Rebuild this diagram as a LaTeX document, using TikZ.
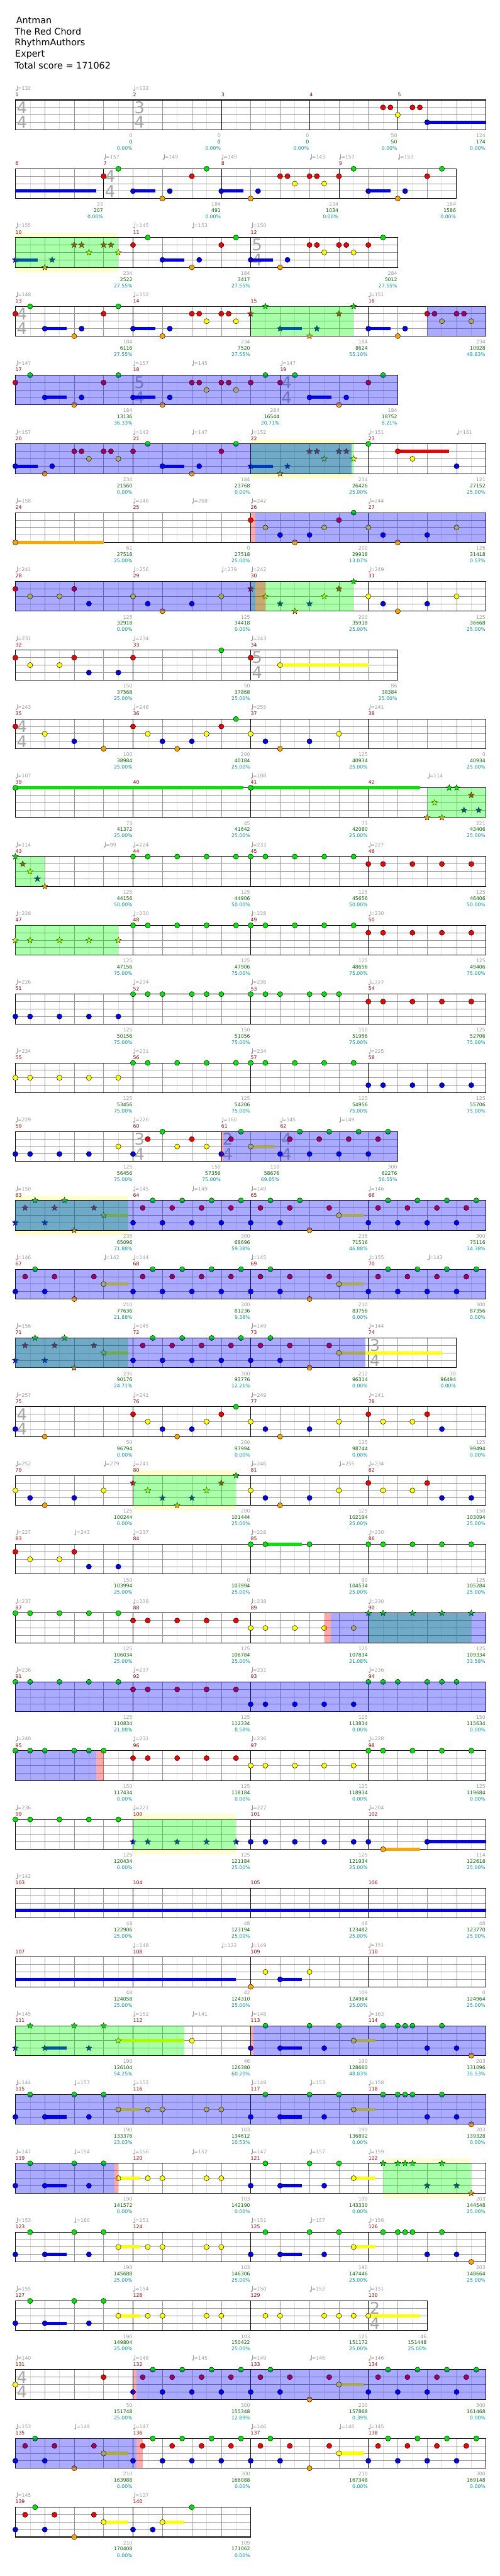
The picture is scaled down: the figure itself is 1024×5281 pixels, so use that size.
\documentclass[tikz,border=0pt]{standalone}
\usepackage{fontspec}
\setmainfont{DejaVu Sans}
\usepackage{xcolor}
\usetikzlibrary{shapes.geometric}

\definecolor{gnote}{RGB}{0,230,0}
\definecolor{rnote}{RGB}{245,0,0}
\definecolor{ynote}{RGB}{255,255,0}
\definecolor{bnote}{RGB}{0,0,245}
\definecolor{onote}{RGB}{255,165,0}
\colorlet{lane0}{gnote}
\colorlet{lane1}{rnote}
\colorlet{lane2}{ynote}
\colorlet{lane3}{bnote}
\colorlet{lane4}{onote}
\definecolor{bandcol}{RGB}{255,255,205}
\definecolor{greycol}{RGB}{155,155,155}
\definecolor{mnumcol}{RGB}{150,0,0}
\definecolor{cumcol}{RGB}{0,105,0}
\definecolor{pctcol}{RGB}{0,150,150}
\definecolor{gridcol}{RGB}{150,150,150}
\definecolor{halfcol}{RGB}{222,222,222}
\definecolor{tsigcol}{RGB}{165,165,165}

\tikzstyle{notedot}    = [draw=black, line width=0.6pt]
\tikzstyle{starnote}   = [draw=black, line width=0.5pt, star, star points=5, star point ratio=2.3, minimum size=13pt, inner sep=0pt]
\tikzstyle{sustain}    = [line width=6.5pt]
\tikzstyle{halfline}   = [draw=halfcol, line width=0.7pt]
\tikzstyle{beatline}   = [draw=gridcol, line width=0.8pt]
\tikzstyle{laneline}   = [draw=gridcol, line width=1.2pt]
\tikzstyle{barline}    = [draw=black, line width=0.8pt]
\tikzstyle{staffframe} = [draw=black, line width=1.3pt]
\tikzstyle{row}        = [shift={(31.5pt,-\rowy pt)}, x=60.3pt, y=-15.25pt]
\tikzstyle{headtext}   = [inner sep=0pt, anchor=west, font=\fontsize{18.5}{20}\selectfont]
\tikzstyle{tempotext}  = [text=greycol, inner sep=0pt, anchor=west, font=\fontsize{10}{10}\selectfont]
\tikzstyle{mnumtext}   = [text=mnumcol, inner sep=0pt, anchor=west, font=\fontsize{10}{10}\selectfont]
\tikzstyle{scoretext}  = [inner sep=0pt, anchor=east, xshift=-1pt, font=\fontsize{10}{10}\selectfont]
\tikzstyle{tsigtext}   = [text=tsigcol, inner sep=0pt, font=\fontsize{33}{33}\selectfont]

\newcounter{nid}
\newcommand\setrow[1]{\pgfmathsetmacro\rowy{205+141*(#1-1)}}
\newcommand\staff[2]{%
  \fill[white] (0,0) rectangle (#1,4);
  \pgfmathsetmacro\lasthalf{#1-0.5}
  \foreach \p in {0.5,1.5,...,\lasthalf} {\draw[halfline] (\p,0) -- (\p,4);}
  \pgfmathtruncatemacro\lastbeat{#1-1}
  \foreach \p in {1,...,\lastbeat} {\draw[beatline] (\p,0) -- (\p,4);}
  \foreach \q in {1,2,3} {\draw[laneline] (0,\q) -- (#1,\q);}
  \foreach \p in {#2} {\draw[barline] (\p,0) -- (\p,4);}
  \draw[staffframe] (0,0) rectangle (#1,4);}
\newcommand\tsig[3]{\stepcounter{nid}%
  \node[tsigtext] (tn\thenid) at (#1+0.22,1) {#2};
  \node[tsigtext] (td\thenid) at (#1+0.22,3) {#3};}
\newcommand\tempo[2]{\stepcounter{nid}%
  \fill[greycol] (#1,-1.31) ++(2pt,0pt) circle (1.7pt);
  \draw[greycol, line width=0.7pt] (#1,-1.31) ++(3.5pt,0pt) -- ++(0pt,10pt);
  \node[tempotext, xshift=4.5pt] (tq\thenid) at (#1,-1.57) {=#2};}
\newcommand\tempos[1]{\foreach \tp/\tv in {#1} {\tempo{\tp}{\tv}}}
\newcommand\measure[6]{%
  \node[mnumtext] (m#3) at (#1,-0.72) {#3};
  \node[scoretext, text=greycol] (ms#3) at (#2,4.79) {#4};
  \node[scoretext, text=cumcol] (mc#3) at (#2,5.62) {#5};
  \node[scoretext, text=pctcol] (mp#3) at (#2,6.47) {#6};}
\newcommand\sus[3]{\draw[sustain, draw=lane#1] (#2,#1) -- (#3,#1);}
\newcommand\nt[2]{\foreach \p in {#2} {\filldraw[notedot, fill=lane#1] (\p,#1) circle (5.3pt);}}
\newcommand\snt[2]{\foreach \p in {#2} {\stepcounter{nid}\node[starnote, fill=lane#1] (sn\thenid) at (\p,#1) {};}}
\newcommand\spband[2]{\fill[bandcol] (#1,-0.66) rectangle (#2,4.66);}
\newcommand\spzone[2]{\fill[green, opacity=0.333] (#1,0) rectangle (#2,4);}
\newcommand\odzone[2]{\fill[blue, opacity=0.333] (#1,0) rectangle (#2,4);}
\newcommand\redzone[2]{\fill[red, opacity=0.333] (#1,0) rectangle (#2,4);}

\begin{document}
\begin{tikzpicture}[x=1pt, y=-1pt]
\useasboundingbox (0,0) rectangle (1024,5281);

% hlavička
\node[headtext] (song) at (33,42) {Antman};
\node[headtext] (artist) at (30,65) {The Red Chord};
\node[headtext] (charter) at (30,88) {RhythmAuthors};
\node[headtext] (level) at (31,112) {Expert};
\node[headtext] (total) at (30,134) {Total score = 171062};

% řádek 1, takty 1-5
\setrow{1}
\begin{scope}[row]
\staff{16}{4,7,10,13}
\tsig{0}{4}{4} \tsig{4}{3}{4}
\tempos{0/132,4/132}
\measure{0}{4}{1}{0}{0}{0.00\%}
\measure{4}{7}{2}{0}{0}{0.00\%}
\measure{7}{10}{3}{0}{0}{0.00\%}
\measure{10}{13}{4}{50}{50}{0.00\%}
\measure{13}{16}{5}{124}{174}{0.00\%}
\sus{3}{14}{16}
\nt{1}{12.5,12.75,13.5,13.75}
\nt{2}{13}
\nt{3}{14}
\end{scope}

% řádek 2, takty 6-9
\setrow{2}
\begin{scope}[row]
\staff{15}{3,7,11}
\tsig{3}{4}{4}
\tempos{3/157,5/149,7/149,10/143,11/157,13/153}
\measure{0}{3}{6}{33}{207}{0.00\%}
\measure{3}{7}{7}{184}{491}{0.00\%}
\measure{7}{11}{8}{234}{1034}{0.00\%}
\measure{11}{15}{9}{184}{1586}{0.00\%}
\sus{3}{0}{2.75} \sus{3}{4}{4.75} \sus{3}{7}{7.75} \sus{3}{12}{12.75}
\nt{0}{3.5,6.5,11.5,14.5}
\nt{1}{3,6,9,9.25,10,10.25,11,14}
\nt{2}{9.5,10.5}
\nt{3}{4,5.25,7,8.25,12,13.25}
\nt{4}{5,8,13}
\end{scope}

% řádek 3, takty 10-12
\setrow{3}
\begin{scope}[row]
\spband{0}{3.5}
\staff{13}{4,8}
\tsig{8}{5}{4}
\tempos{0/155,4/145,6/153,8/150}
\measure{0}{4}{10}{234}{2522}{27.55\%}
\measure{4}{8}{11}{184}{3417}{27.55\%}
\measure{8}{13}{12}{284}{5012}{27.55\%}
\sus{3}{0}{0.75} \sus{3}{5}{5.75} \sus{3}{8}{8.75}
\snt{1}{2,2.25,3,3.25}
\snt{2}{2.5,3.5}
\snt{3}{0,1.25}
\snt{4}{1}
\nt{0}{4.5,7.5,12.5}
\nt{1}{4,7,10,10.25,11,11.25,12}
\nt{2}{10.5,11.5}
\nt{3}{5,6.25,8,9.25}
\nt{4}{6,9}
\spzone{0}{3.5}
\end{scope}

% řádek 4, takty 13-16
\setrow{4}
\begin{scope}[row]
\staff{16}{4,8,12}
\tsig{0}{4}{4}
\tempos{0/148,4/152,12/151}
\measure{0}{4}{13}{184}{6116}{27.55\%}
\measure{4}{8}{14}{234}{7520}{27.55\%}
\measure{8}{12}{15}{184}{8624}{55.10\%}
\measure{12}{16}{16}{234}{10928}{48.83\%}
\sus{3}{1}{1.75} \sus{3}{4}{4.75} \sus{3}{9}{9.75} \sus{3}{12}{12.75}
\nt{0}{0.5,3.5}
\nt{1}{0,3,6,6.25,7,7.25,14,14.25,15,15.25}
\nt{2}{6.5,7.5,14.5,15.5}
\nt{3}{1,2.25,4,5.25,12,13.25}
\nt{4}{2,5,13}
\snt{0}{8.5,11.5}
\snt{1}{8,11}
\snt{3}{9,10.25}
\snt{4}{10}
\spzone{8}{11.5}
\odzone{14}{16}
\end{scope}

% řádek 5, takty 17-19
\setrow{5}
\begin{scope}[row]
\staff{13}{4,9}
\tsig{4}{5}{4} \tsig{9}{4}{4}
\tempos{0/147,4/157,6/145,9/147}
\measure{0}{4}{17}{184}{13136}{36.33\%}
\measure{4}{9}{18}{284}{16544}{20.71\%}
\measure{9}{13}{19}{184}{18752}{8.21\%}
\sus{3}{1}{1.75} \sus{3}{4}{4.75} \sus{3}{10}{10.75}
\nt{0}{0.5,3.5,8.5,9.5,12.5}
\nt{1}{0,3,6,6.25,7,7.25,8,9,12}
\nt{2}{6.5,7.5}
\nt{3}{1,2.25,4,5.25,10,11.25}
\nt{4}{2,5,11}
\odzone{0}{13}
\end{scope}

% řádek 6, takty 20-23
\setrow{6}
\begin{scope}[row]
\spband{8}{11.5}
\staff{16}{4,8,12}
\tempos{0/157,4/142,6/147,8/152,12/151,15/161}
\measure{0}{4}{20}{234}{21560}{0.00\%}
\measure{4}{8}{21}{184}{23768}{0.00\%}
\measure{8}{12}{22}{234}{26426}{25.00\%}
\measure{12}{16}{23}{121}{27152}{25.00\%}
\sus{3}{0}{0.75} \sus{3}{5}{5.75} \sus{3}{8}{8.75} \sus{1}{13}{14.75}
\nt{0}{4.5,7.5,12}
\nt{1}{2,2.25,3,3.25,4,7,13}
\nt{2}{2.5,3.5,13.5}
\nt{3}{0,1.25,5,6.25,15}
\nt{4}{1,6}
\snt{1}{10,10.25,11,11.25}
\snt{2}{10.5,11.5}
\snt{3}{8,9.25}
\snt{4}{9}
\spzone{8}{11.5}
\odzone{0}{11.43}
\end{scope}

% řádek 7, takty 24-27
\setrow{7}
\begin{scope}[row]
\staff{16}{4,8,12}
\tempos{0/158,4/246,6/268,8/242,12/244}
\measure{0}{4}{24}{61}{27518}{25.00\%}
\measure{4}{8}{25}{0}{27518}{25.00\%}
\measure{8}{12}{26}{200}{29918}{13.07\%}
\measure{12}{16}{27}{125}{31418}{0.57\%}
\sus{4}{0}{3}
\nt{0}{11.5}
\nt{1}{8,11}
\nt{2}{8.5,10.5,12,15}
\nt{3}{9,10,12.5,14}
\nt{4}{0,9.5,13}
\redzone{8}{8.15}
\odzone{8.15}{16}
\end{scope}

% řádek 8, takty 28-31
\setrow{8}
\begin{scope}[row]
\staff{16}{4,8,12}
\tempos{0/241,4/256,7/279,8/242,12/249}
\measure{0}{4}{28}{125}{32918}{0.00\%}
\measure{4}{8}{29}{125}{34418}{0.00\%}
\measure{8}{12}{30}{200}{35918}{25.00\%}
\measure{12}{16}{31}{125}{36668}{25.00\%}
\nt{1}{0,2}
\nt{2}{0.5,1.5,4,7,12,15}
\nt{3}{2.5,4.5,6,12.5,14}
\nt{4}{5,13}
\snt{0}{11.5}
\snt{1}{8,11}
\snt{2}{8.5,10.5}
\snt{3}{9,10}
\snt{4}{9.5}
\spzone{8}{11.5}
\odzone{0}{8.15}
\redzone{8.15}{8.5}
\end{scope}

% řádek 9, takty 32-34
\setrow{9}
\begin{scope}[row]
\staff{13}{4,8}
\tsig{8}{5}{4}
\tempos{0/231,4/234,8/243}
\measure{0}{4}{32}{150}{37568}{25.00\%}
\measure{4}{8}{33}{50}{37868}{25.00\%}
\measure{8}{13}{34}{86}{38384}{25.00\%}
\sus{2}{9}{12}
\nt{0}{7}
\nt{1}{0,2,4,8}
\nt{2}{0.5,1.5,9}
\nt{3}{2.5,3.5}
\end{scope}

% řádek 10, takty 35-38
\setrow{10}
\begin{scope}[row]
\staff{16}{4,8,12}
\tsig{0}{4}{4}
\tempos{0/243,4/246,8/255,12/241}
\measure{0}{4}{35}{100}{38984}{25.00\%}
\measure{4}{8}{36}{200}{40184}{25.00\%}
\measure{8}{12}{37}{125}{40934}{25.00\%}
\measure{12}{16}{38}{0}{40934}{25.00\%}
\nt{0}{7.5}
\nt{1}{0,4,7}
\nt{2}{1,4.5,6.5,8,11}
\nt{3}{2,5,6,8.5,10}
\nt{4}{3,5.5,9}
\end{scope}

% řádek 11, takty 39-42
\setrow{11}
\begin{scope}[row]
\staff{16}{4,8,12}
\tempos{0/107,8/108,14/114}
\measure{0}{4}{39}{73}{41372}{25.00\%}
\measure{4}{8}{40}{45}{41642}{25.00\%}
\measure{8}{12}{41}{73}{42080}{25.00\%}
\measure{12}{16}{42}{221}{43406}{25.00\%}
\sus{0}{0}{7.75} \sus{0}{8}{13.75}
\nt{0}{0,8}
\snt{0}{14.75,15}
\snt{1}{15.5}
\snt{2}{14.25}
\snt{3}{15.25,15.75}
\snt{4}{14,14.5}
\spzone{14}{16}
\end{scope}

% řádek 12, takty 43-46
\setrow{12}
\begin{scope}[row]
\staff{16}{4,8,12}
\tempos{0/114,3/99,4/224,8/233,12/227}
\measure{0}{4}{43}{125}{44156}{50.00\%}
\measure{4}{8}{44}{125}{44906}{50.00\%}
\measure{8}{12}{45}{125}{45656}{50.00\%}
\measure{12}{16}{46}{125}{46406}{50.00\%}
\nt{0}{4,4.5,5.5,6.5,7.5,8,8.5,9.5,10.5,11.5}
\nt{1}{12,12.5,13.5,14.5,15.5}
\snt{0}{0} \snt{1}{0.25} \snt{2}{0.5} \snt{3}{0.75} \snt{4}{1}
\spzone{0}{1}
\end{scope}

% řádek 13, takty 47-50
\setrow{13}
\begin{scope}[row]
\staff{16}{4,8,12}
\tempos{0/228,4/230,8/228,12/230}
\measure{0}{4}{47}{125}{47156}{75.00\%}
\measure{4}{8}{48}{125}{47906}{75.00\%}
\measure{8}{12}{49}{125}{48656}{75.00\%}
\measure{12}{16}{50}{125}{49406}{75.00\%}
\nt{0}{4,4.5,5.5,6.5,7.5,8,8.5,9.5,10.5,11.5}
\nt{1}{12,12.5,13.5,14.5,15.5}
\snt{2}{0,0.5,1.5,2.5,3.5}
\spzone{0}{3.5}
\end{scope}

% řádek 14, takty 51-54
\setrow{14}
\begin{scope}[row]
\staff{16}{4,8,12}
\tempos{0/226,4/234,8/236,12/227}
\measure{0}{4}{51}{125}{50156}{75.00\%}
\measure{4}{8}{52}{150}{51056}{75.00\%}
\measure{8}{12}{53}{150}{51956}{75.00\%}
\measure{12}{16}{54}{125}{52706}{75.00\%}
\nt{0}{4,4.5,5,6,6.5,7,8,8.5,9,10,10.5,11}
\nt{1}{12,12.5,13.5,14.5,15.5}
\nt{3}{0,0.5,1.5,2.5,3.5}
\end{scope}

% řádek 15, takty 55-58
\setrow{15}
\begin{scope}[row]
\staff{16}{4,8,12}
\tempos{0/234,4/231,8/234,12/225}
\measure{0}{4}{55}{125}{53456}{75.00\%}
\measure{4}{8}{56}{125}{54206}{75.00\%}
\measure{8}{12}{57}{125}{54956}{75.00\%}
\measure{12}{16}{58}{125}{55706}{75.00\%}
\nt{0}{4,4.5,5.5,6.5,7.5,8,8.5,9.5,10.5,11.5}
\nt{2}{0,0.5,1.5,2.5,3.5}
\nt{3}{12,12.5,13.5,14.5,15.5}
\end{scope}

% řádek 16, takty 59-62
\setrow{16}
\begin{scope}[row]
\staff{13}{4,7,9}
\tsig{4}{3}{4} \tsig{7}{2}{4} \tsig{9}{4}{4}
\tempos{0/229,4/226,7/160,9/145,11/149}
\measure{0}{4}{59}{125}{56456}{75.00\%}
\measure{4}{7}{60}{150}{57356}{75.00\%}
\measure{7}{9}{61}{110}{58676}{69.05\%}
\measure{9}{13}{62}{300}{62276}{56.55\%}
\sus{2}{8}{8.83}
\nt{0}{5,7.67,9.67,10.67,11.67,12.67}
\nt{1}{4.5,6,7.33,9.33,10.33,11.33,12.33}
\nt{2}{3.5,5.5,6.5,8}
\nt{3}{0,0.5,1.5,2.5,4,7,9,10,11,12}
\redzone{7}{7.07}
\odzone{7.07}{13}
\end{scope}

% řádek 17, takty 63-66
\setrow{17}
\begin{scope}[row]
\spband{0}{3.83}
\staff{16}{4,8,12}
\tempos{0/150,4/145,6/149,8/149,12/146}
\measure{0}{4}{63}{235}{65096}{71.88\%}
\measure{4}{8}{64}{300}{68696}{59.38\%}
\measure{8}{12}{65}{235}{71516}{46.88\%}
\measure{12}{16}{66}{300}{75116}{34.38\%}
\sus{2}{3}{3.83} \sus{2}{11}{11.83}
\snt{0}{0.67,1.67} \snt{1}{0.33,1.33,2.67} \snt{2}{3} \snt{3}{0,1} \snt{4}{2}
\nt{0}{4.67,5.67,6.67,7.67,8.67,9.67,12.67,13.67,14.67,15.67}
\nt{1}{4.33,5.33,6.33,7.33,8.33,9.33,10.67,12.33,13.33,14.33,15.33}
\nt{2}{11}
\nt{3}{4,5,6,7,8,9,12,13,14,15}
\nt{4}{10}
\spzone{0}{3.83}
\odzone{0}{16}
\end{scope}

% řádek 18, takty 67-70
\setrow{18}
\begin{scope}[row]
\staff{16}{4,8,12}
\tempos{0/146,3/142,4/144,8/145,12/155,14/143}
\measure{0}{4}{67}{210}{77636}{21.88\%}
\measure{4}{8}{68}{300}{81236}{9.38\%}
\measure{8}{12}{69}{210}{83756}{0.00\%}
\measure{12}{16}{70}{300}{87356}{0.00\%}
\sus{2}{3}{3.83} \sus{2}{11}{11.83}
\nt{0}{0.67,4.67,5.67,6.67,7.67,8.67,12.67,13.67,14.67,15.67}
\nt{1}{0.33,1.33,2.67,4.33,5.33,6.33,7.33,8.33,9.33,10.67,12.33,13.33,14.33,15.33}
\nt{2}{3,11}
\nt{3}{0,1,4,5,6,7,8,9,12,13,14,15}
\nt{4}{2,10}
\odzone{0}{16}
\end{scope}

% řádek 19, takty 71-74
\setrow{19}
\begin{scope}[row]
\staff{15}{4,8,12}
\tsig{12}{3}{4}
\tempos{0/156,4/145,8/149,12/144}
\measure{0}{4}{71}{235}{90176}{24.71\%}
\measure{4}{8}{72}{300}{93776}{12.21\%}
\measure{8}{12}{73}{212}{96314}{0.00\%}
\measure{12}{15}{74}{30}{96494}{0.00\%}
\sus{2}{3}{3.83} \sus{2}{11}{14.5}
\snt{0}{0.67,1.67} \snt{1}{0.33,1.33,2.67} \snt{2}{3} \snt{3}{0,1} \snt{4}{2}
\nt{0}{4.67,5.67,6.67,7.67,8.67}
\nt{1}{4.33,5.33,6.33,7.33,8.33,9.33,10.67}
\nt{2}{11}
\nt{3}{4,5,6,7,8,9}
\nt{4}{10}
\spzone{0}{3.83}
\odzone{0}{11.9}
\end{scope}

% řádek 20, takty 75-78
\setrow{20}
\begin{scope}[row]
\staff{16}{4,8,12}
\tsig{0}{4}{4}
\tempos{0/257,4/241,8/249,12/241}
\measure{0}{4}{75}{50}{96794}{0.00\%}
\measure{4}{8}{76}{200}{97994}{0.00\%}
\measure{8}{12}{77}{125}{98744}{0.00\%}
\measure{12}{16}{78}{125}{99494}{0.00\%}
\nt{0}{7.5}
\nt{1}{4,7,12,14}
\nt{2}{4.5,6.5,8,11,12.5,13.5}
\nt{3}{0,5,6,8.5,10,14.5}
\nt{4}{1,5.5,9}
\end{scope}

% řádek 21, takty 79-82
\setrow{21}
\begin{scope}[row]
\spband{4}{7.5}
\staff{16}{4,8,12}
\tempos{0/252,3/279,4/241,8/246,11/255,12/234}
\measure{0}{4}{79}{125}{100244}{0.00\%}
\measure{4}{8}{80}{200}{101444}{25.00\%}
\measure{8}{12}{81}{125}{102194}{25.00\%}
\measure{12}{16}{82}{150}{103094}{25.00\%}
\nt{1}{12,14}
\nt{2}{0,3,8,11,12.5,13.5}
\nt{3}{0.5,2,8.5,10,14.5,15.5}
\nt{4}{1,9}
\snt{0}{7.5} \snt{1}{4,7} \snt{2}{4.5,6.5} \snt{3}{5,6} \snt{4}{5.5}
\spzone{4}{7.5}
\end{scope}

% řádek 22, takty 83-86
\setrow{22}
\begin{scope}[row]
\staff{16}{4,8,12}
\tempos{0/227,2/243,4/237,8/228,12/230}
\measure{0}{4}{83}{150}{103994}{25.00\%}
\measure{4}{8}{84}{0}{103994}{25.00\%}
\measure{8}{12}{85}{90}{104534}{25.00\%}
\measure{12}{16}{86}{125}{105284}{25.00\%}
\sus{0}{8.5}{9.75}
\nt{0}{8,8.5,10,12,12.5,13.5,14.5,15.5}
\nt{1}{0,2}
\nt{2}{0.5,1.5}
\nt{3}{2.5,3.5}
\end{scope}

% řádek 23, takty 87-90
\setrow{23}
\begin{scope}[row]
\staff{16}{4,8,12}
\tempos{0/237,4/238,8/238,12/230}
\measure{0}{4}{87}{125}{106034}{25.00\%}
\measure{4}{8}{88}{125}{106784}{25.00\%}
\measure{8}{12}{89}{125}{107834}{21.08\%}
\measure{12}{16}{90}{125}{109334}{33.58\%}
\nt{0}{0,0.5,1.5,2.5,3.5}
\nt{1}{4,4.5,5.5,6.5,7.5}
\nt{2}{8,8.5,9.5,10.5,11.5}
\snt{0}{12,12.5,13.5,14.5,15.5}
\spzone{12}{15.5}
\redzone{10.5}{10.72}
\odzone{10.72}{16}
\end{scope}

% řádek 24, takty 91-94
\setrow{24}
\begin{scope}[row]
\staff{16}{4,8,12}
\tempos{0/236,4/237,8/231,12/236}
\measure{0}{4}{91}{125}{110834}{21.08\%}
\measure{4}{8}{92}{125}{112334}{8.58\%}
\measure{8}{12}{93}{125}{113834}{0.00\%}
\measure{12}{16}{94}{150}{115634}{0.00\%}
\nt{0}{0,0.5,1.5,2.5,3.5,12,12.5,13,14,14.5,15}
\nt{1}{4,4.5,5.5,6.5,7.5}
\nt{3}{8,8.5,9.5,10.5,11.5}
\odzone{0}{16}
\end{scope}

% řádek 25, takty 95-98
\setrow{25}
\begin{scope}[row]
\staff{16}{4,8,12}
\tempos{0/240,4/231,8/236,12/228}
\measure{0}{4}{95}{150}{117434}{0.00\%}
\measure{4}{8}{96}{125}{118184}{0.00\%}
\measure{8}{12}{97}{125}{118934}{0.00\%}
\measure{12}{16}{98}{125}{119684}{0.00\%}
\nt{0}{0,0.5,1,2,2.5,3,12,12.5,13.5,14.5,15.5}
\nt{1}{4,4.5,5.5,6.5,7.5}
\nt{2}{8,8.5,9.5,10.5,11.5}
\odzone{0}{2.74}
\redzone{2.74}{3}
\end{scope}

% řádek 26, takty 99-102
\setrow{26}
\begin{scope}[row]
\spband{4}{7.5}
\staff{16}{4,8,12}
\tempos{0/236,4/221,8/227,12/204}
\measure{0}{4}{99}{125}{120434}{0.00\%}
\measure{4}{8}{100}{125}{121184}{25.00\%}
\measure{8}{12}{101}{125}{121934}{25.00\%}
\measure{12}{16}{102}{114}{122618}{25.00\%}
\sus{4}{12.5}{13.75} \sus{3}{14}{16}
\nt{0}{0,0.5,1.5,2.5,3.5}
\nt{3}{8,8.5,9.5,10.5,11.5,12,14}
\nt{4}{12.5}
\snt{3}{4,4.5,5.5,6.5,7.5}
\spzone{4}{7.5}
\end{scope}

% řádek 27, takty 103-106
\setrow{27}
\begin{scope}[row]
\staff{16}{4,8,12}
\tempos{0/142}
\measure{0}{4}{103}{48}{122906}{25.00\%}
\measure{4}{8}{104}{48}{123194}{25.00\%}
\measure{8}{12}{105}{48}{123482}{25.00\%}
\measure{12}{16}{106}{48}{123770}{25.00\%}
\sus{3}{0}{16}
\end{scope}

% řádek 28, takty 107-110
\setrow{28}
\begin{scope}[row]
\staff{16}{4,8,12}
\tempos{4/148,7/122,8/149,12/151}
\measure{0}{4}{107}{48}{124058}{25.00\%}
\measure{4}{8}{108}{42}{124310}{25.00\%}
\measure{8}{12}{109}{109}{124964}{25.00\%}
\measure{12}{16}{110}{0}{124964}{25.00\%}
\sus{3}{0}{7.5} \sus{3}{9}{9.75}
\nt{2}{8.5,10}
\nt{3}{9}
\nt{4}{8}
\end{scope}

% řádek 29, takty 111-114
\setrow{29}
\begin{scope}[row]
\staff{16}{4,8,12}
\tempos{0/145,4/152,6/141,8/148,12/163}
\measure{0}{4}{111}{190}{126104}{54.25\%}
\measure{4}{8}{112}{46}{126380}{60.20\%}
\measure{8}{12}{113}{190}{128660}{48.03\%}
\measure{12}{16}{114}{203}{131096}{35.53\%}
\sus{3}{1}{1.75} \sus{2}{3.5}{5.75} \sus{3}{9}{9.75} \sus{2}{11.5}{12.25}
\snt{0}{0.5,2,3} \snt{2}{3.5} \snt{3}{0,1,2.5}
\nt{0}{8.5,10,11,12.5,13,13.25,13.5,14.5}
\nt{2}{6,11.5}
\nt{3}{8,9,10.5,14,15}
\nt{4}{15.5}
\spzone{0}{5.75}
\redzone{8}{8.1}
\odzone{8.1}{16}
\end{scope}

% řádek 30, takty 115-118
\setrow{30}
\begin{scope}[row]
\staff{16}{4,8,12}
\tempos{0/144,2/157,4/152,8/149,10/153,12/158}
\measure{0}{4}{115}{190}{133376}{23.03\%}
\measure{4}{8}{116}{103}{134612}{10.53\%}
\measure{8}{12}{117}{190}{136892}{0.00\%}
\measure{12}{16}{118}{203}{139328}{0.00\%}
\sus{3}{1}{1.75} \sus{2}{3.5}{4.25} \sus{3}{9}{9.75} \sus{2}{11.5}{12.25}
\nt{0}{0.5,2,3,8.5,10,11,12.5,13,13.25,13.5,14.5}
\nt{2}{3.5,4.5,5,6.5,7,11.5}
\nt{3}{0,1,2.5,8,9,10.5,14,15}
\nt{4}{15.5}
\odzone{0}{16}
\end{scope}

% řádek 31, takty 119-122
\setrow{31}
\begin{scope}[row]
\spband{12.5}{15.5}
\staff{16}{4,8,12}
\tempos{0/147,2/154,4/156,6/152,8/147,10/157,12/159}
\measure{0}{4}{119}{190}{141572}{0.00\%}
\measure{4}{8}{120}{103}{142190}{0.00\%}
\measure{8}{12}{121}{190}{143330}{0.00\%}
\measure{12}{16}{122}{203}{144548}{25.00\%}
\sus{3}{1}{1.75} \sus{2}{3.5}{4.25} \sus{3}{9}{9.75} \sus{2}{11.5}{12.25}
\nt{0}{0.5,2,3,8.5,10,11}
\nt{2}{3.5,4.5,5,6.5,7,11.5}
\nt{3}{0,1,2.5,8,9,10.5}
\snt{0}{12.5,13,13.25,13.5,14.5} \snt{3}{14,15} \snt{4}{15.5}
\spzone{12.5}{15.5}
\odzone{0}{3.37}
\redzone{3.37}{3.5}
\end{scope}

% řádek 32, takty 123-126
\setrow{32}
\begin{scope}[row]
\staff{16}{4,8,12}
\tempos{0/153,2/160,4/151,8/151,10/157,12/156}
\measure{0}{4}{123}{190}{145688}{25.00\%}
\measure{4}{8}{124}{103}{146306}{25.00\%}
\measure{8}{12}{125}{190}{147446}{25.00\%}
\measure{12}{16}{126}{203}{148664}{25.00\%}
\sus{3}{1}{1.75} \sus{2}{3.5}{4.25} \sus{3}{9}{9.75} \sus{2}{11.5}{12.25}
\nt{0}{0.5,2,3,8.5,10,11,12.5,13,13.25,13.5,14.5}
\nt{2}{3.5,4.5,5,6.5,7,11.5}
\nt{3}{0,1,2.5,8,9,10.5,14,15}
\nt{4}{15.5}
\end{scope}

% řádek 33, takty 127-130
\setrow{33}
\begin{scope}[row]
\staff{14}{4,8,12}
\tsig{12}{2}{4}
\tempos{0/155,4/154,8/150,10/152,12/151}
\measure{0}{4}{127}{190}{149804}{25.00\%}
\measure{4}{8}{128}{103}{150422}{25.00\%}
\measure{8}{12}{129}{125}{151172}{25.00\%}
\measure{12}{14}{130}{46}{151448}{25.00\%}
\sus{3}{1}{1.75} \sus{2}{3.5}{4.25} \sus{2}{12}{13.75}
\nt{0}{0.5,2,3}
\nt{2}{3.5,4.5,5,6.5,7,8.5,9,10.5,11,11.5,12}
\nt{3}{0,1,2.5}
\end{scope}

% řádek 34, takty 131-134
\setrow{34}
\begin{scope}[row]
\staff{16}{4,8,12}
\tsig{0}{4}{4}
\tempos{0/140,4/148,6/145,8/149,10/146,12/146}
\measure{0}{4}{131}{50}{151748}{25.00\%}
\measure{4}{8}{132}{300}{155348}{12.89\%}
\measure{8}{12}{133}{210}{157868}{0.39\%}
\measure{12}{16}{134}{300}{161468}{0.00\%}
\sus{2}{11}{11.83}
\nt{0}{4.67,5.67,6.67,7.67,8.67,12.67,13.67,14.67,15.67}
\nt{1}{3,4.33,5.33,6.33,7.33,8.33,9.33,10.67,12.33,13.33,14.33,15.33}
\nt{2}{0,11}
\nt{3}{4,5,6,7,8,9,12,13,14,15}
\nt{4}{10}
\redzone{4}{4.11}
\odzone{4.11}{16}
\end{scope}

% řádek 35, takty 135-138
\setrow{35}
\begin{scope}[row]
\staff{16}{4,8,12}
\tempos{0/153,2/149,4/147,8/146,11/140,12/145}
\measure{0}{4}{135}{210}{163988}{0.00\%}
\measure{4}{8}{136}{300}{166088}{0.00\%}
\measure{8}{12}{137}{210}{167348}{0.00\%}
\measure{12}{16}{138}{300}{169148}{0.00\%}
\sus{2}{3}{3.83} \sus{2}{11}{11.83}
\nt{0}{0.67,4.67,5.67,6.67,7.67,8.67,12.67,13.67,14.67,15.67}
\nt{1}{0.33,1.33,2.67,4.33,5.33,6.33,7.33,8.33,9.33,10.67,12.33,13.33,14.33,15.33}
\nt{2}{3,11}
\nt{3}{0,1,4,5,6,7,8,9,12,13,14,15}
\nt{4}{2,10}
\odzone{0}{4.11}
\redzone{4.11}{4.33}
\end{scope}

% řádek 36, takty 139-140
\setrow{36}
\begin{scope}[row]
\staff{8}{4}
\tempos{0/145,4/137}
\measure{0}{4}{139}{210}{170408}{0.00\%}
\measure{4}{8}{140}{109}{171062}{0.00\%}
\sus{2}{3}{3.83} \sus{2}{5}{5.75}
\nt{0}{0.67,6}
\nt{1}{0.33,1.33,2.67}
\nt{2}{3,5}
\nt{3}{0,1,4,4.67}
\nt{4}{2}
\end{scope}

\end{tikzpicture}
\end{document}
